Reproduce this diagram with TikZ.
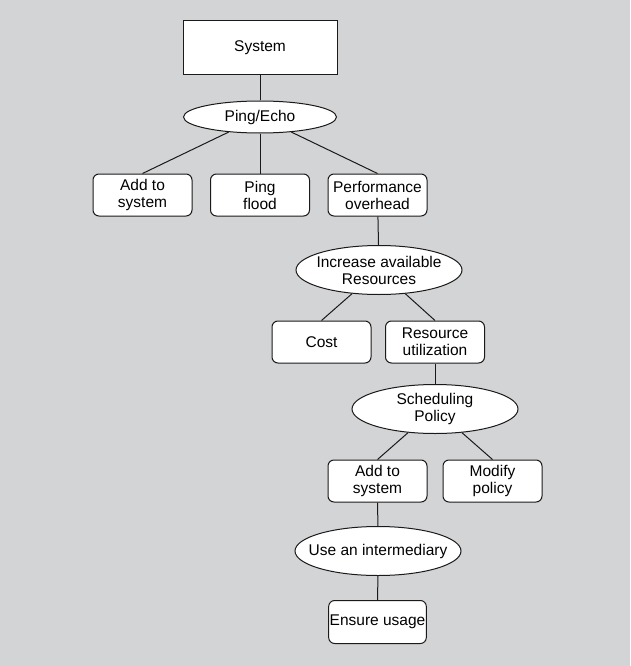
\documentclass[tikz,border=0pt]{standalone}
\usepackage{fontspec}
\setmainfont{Liberation Sans}
\definecolor{panelgray}{HTML}{D3D4D6}
\definecolor{inkline}{HTML}{1A1A1A}
\usetikzlibrary{shapes.geometric}

\begin{document}
\begin{tikzpicture}[
  x=1pt, y=-1pt,
  every node/.style={font=\fontsize{15.5pt}{17pt}\selectfont, text=black},
  topbox/.style={rectangle, draw=inkline, fill=white, line width=1pt,
    minimum width=154pt, minimum height=54pt},
  leaf/.style={rectangle, draw=inkline, fill=white, line width=1pt,
    minimum width=99pt, minimum height=42pt, inner sep=1pt,
    align=center, rounded corners=6pt},
  tactic/.style={ellipse, draw=inkline, fill=white, line width=1pt,
    minimum width=166pt, minimum height=49pt, inner xsep=-14pt,
    inner ysep=-6pt, align=center},
  link/.style={inkline, line width=1pt},
]
  \fill[panelgray] (0,0) rectangle (630,666);

  \node[topbox] (sys) at (260,48) {System};
  \node[tactic, minimum width=153pt, minimum height=32pt] (ping) at (260,117) {Ping/Echo};

  \node[leaf] (addsys) at (142.5,195) {Add to\\system};
  \node[leaf] (flood) at (260,195) {Ping\\flood};
  \node[leaf] (perf) at (377.5,195) {Performance\\overhead};

  \node[tactic] (incres) at (379,270) {Increase available\\Resources};
  \node[leaf] (cost) at (321.5,342) {Cost};
  \node[leaf] (resutil) at (435,342) {Resource\\utilization};

  \node[tactic] (sched) at (435,409) {Scheduling\\Policy};
  \node[leaf] (addsys2) at (377.5,481) {Add to\\system};
  \node[leaf] (modify) at (492.5,481) {Modify\\policy};

  \node[tactic] (interm) at (378,551) {Use an intermediary};
  \node[leaf, minimum width=97pt, minimum height=43pt] (ensure) at (377.5,622) {Ensure usage};

  \draw[link] (sys) -- (ping);
  \draw[link] (ping) -- (addsys.north);
  \draw[link] (ping) -- (flood);
  \draw[link] (ping) -- (perf.north);
  \draw[link] (perf) -- (incres);
  \draw[link] (incres) -- (cost.north);
  \draw[link] (incres) -- (resutil.north);
  \draw[link] (resutil) -- (sched);
  \draw[link] (sched) -- (addsys2.north);
  \draw[link] (sched) -- (modify.north);
  \draw[link] (addsys2) -- (interm);
  \draw[link] (interm) -- (ensure);
\end{tikzpicture}
\end{document}
